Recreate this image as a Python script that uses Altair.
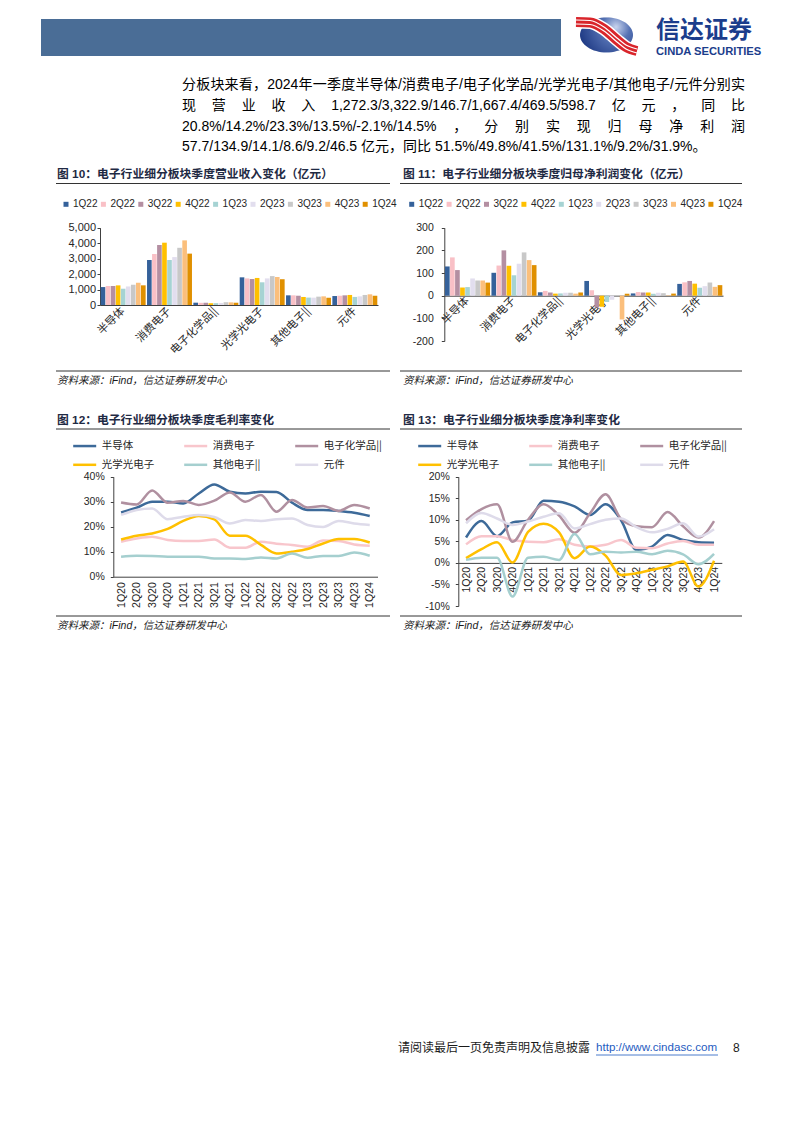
import altair as alt
import pandas as pd

# ---------------- data ----------------
sectors = ["半导体", "消费电子", "电子化学品||", "光学光电子", "其他电子||", "元件"]
bar_quarters = ["1Q22", "2Q22", "3Q22", "4Q22", "1Q23", "2Q23", "3Q23", "4Q23", "1Q24"]
bar_colors = ["#35619a", "#f9c0c6", "#b48fa2", "#ffc000", "#a6d3d3",
              "#e2deee", "#c8c8c8", "#fbbf7c", "#e09000"]

revenue = {  # 亿元
    "半导体":       [1160, 1230, 1230, 1270, 1053, 1200, 1310, 1440, 1272.3],
    "消费电子":     [2910, 3300, 3880, 4030, 2910, 3100, 3700, 4180, 3322.9],
    "电子化学品||": [150, 140, 145, 115, 119, 130, 180, 170, 146.7],
    "光学光电子":   [1790, 1720, 1680, 1750, 1469, 1720, 1870, 1810, 1667.4],
    "其他电子||":   [625, 625, 600, 520, 480, 475, 540, 560, 469.5],
    "元件":         [580, 600, 625, 650, 523, 560, 650, 690, 598.7],
}
profit = {  # 亿元
    "半导体":       [129, 169, 113, 36, 38, 76, 67, 67, 57.7],
    "消费电子":     [101, 133, 200, 132, 90, 141, 191, 157, 134.9],
    "电子化学品||": [15, 21, 14, 9, 10, 13, 13, 9, 14.1],
    "光学光电子":   [65, 24, -52, -49, -28, -18, -3, -105, 8.6],
    "其他电子||":   [10, 16, 14, 14, 8.4, 13, 11, 2, 9.2],
    "元件":         [52, 59, 65, 53, 35, 42, 58, 39, 46.5],
}

line_quarters = ["1Q20", "2Q20", "3Q20", "4Q20", "1Q21", "2Q21", "3Q21", "4Q21",
                 "1Q22", "2Q22", "3Q22", "4Q22", "1Q23", "2Q23", "3Q23", "4Q23", "1Q24"]
line_colors = ["#3d6a99", "#f8c6cc", "#b090a0", "#ffc000", "#a5cfcf", "#dedbea"]

gross = {  # %
    "半导体":       [25.7, 27.6, 30.0, 30.0, 29.3, 33.3, 36.9, 34.0, 33.3, 34.0, 33.9, 29.6, 26.7, 26.7, 26.3, 25.6, 24.3],
    "消费电子":     [14.0, 15.3, 16.0, 14.7, 14.3, 14.3, 14.9, 11.6, 11.6, 14.0, 13.2, 12.7, 12.0, 14.5, 14.3, 12.9, 12.4],
    "电子化学品||": [29.7, 28.9, 34.5, 29.6, 30.3, 28.7, 30.4, 33.7, 30.0, 32.7, 26.0, 30.7, 27.7, 28.3, 26.3, 28.7, 27.3],
    "光学光电子":   [14.9, 16.4, 17.3, 19.1, 22.3, 24.3, 22.9, 16.4, 16.4, 12.7, 9.3, 10.0, 11.1, 13.3, 15.1, 15.1, 13.7],
    "其他电子||":   [8.0, 8.4, 8.3, 8.0, 8.0, 8.0, 7.3, 7.3, 7.1, 7.7, 7.3, 9.3, 7.6, 8.3, 8.3, 9.7, 8.4],
    "元件":         [24.7, 26.7, 27.3, 23.0, 24.0, 24.7, 23.9, 21.3, 22.7, 22.3, 23.0, 23.3, 20.7, 19.9, 22.3, 21.3, 20.7],
}
net = {  # %
    "半导体":       [5.9, 9.7, 6.2, 9.4, 9.8, 14.4, 14.2, 13.1, 11.1, 13.6, 9.9, 3.0, 3.8, 6.5, 5.3, 4.8, 4.7],
    "消费电子":     [4.3, 6.2, 6.2, 5.3, 4.9, 4.8, 5.5, 4.2, 3.8, 4.2, 5.3, 3.5, 3.4, 4.5, 5.1, 4.2, 4.2],
    "电子化学品||": [9.9, 12.5, 13.6, 4.9, 10.0, 13.6, 11.0, 7.0, 11.5, 15.9, 10.2, 8.5, 8.3, 11.8, 8.5, 5.9, 9.7],
    "光学光电子":   [1.1, 3.2, 4.8, 0.1, 7.2, 9.1, 7.1, 1.1, 3.8, 1.7, -2.8, -2.4, -1.6, -0.8, 0.3, -5.5, 0.5],
    "其他电子||":   [0.7, 1.2, 1.2, -7.8, 1.2, 1.4, 0.7, 6.7, 2.0, 2.6, 2.4, 2.6, 2.0, 2.8, 2.0, -0.3, 2.1],
    "元件":         [9.2, 11.6, 10.3, 8.8, 9.6, 10.7, 11.5, 8.0, 9.0, 10.0, 10.3, 8.3, 7.1, 7.9, 9.2, 6.1, 7.8],
}

para_lines = [
    "分板块来看，2024 年一季度半导体/消费电子/电子化学品/光学光电子/其他电子/元件分别实",
    "现营业收入 1,272.3/3,322.9/146.7/1,667.4/469.5/598.7 亿元，同比",
    "20.8%/14.2%/23.3%/13.5%/-2.1%/14.5%，分别实现归母净利润",
    "57.7/134.9/14.1/8.6/9.2/46.5 亿元，同比 51.5%/49.8%/41.5%/131.1%/9.2%/31.9%。",
]
titles = ["图 10：电子行业细分板块季度营业收入变化（亿元）",
          "图 11：电子行业细分板块季度归母净利润变化（亿元）",
          "图 12：电子行业细分板块季度毛利率变化",
          "图 13：电子行业细分板块季度净利率变化"]
source = "资料来源：iFind，信达证券研发中心"

# ---------------- layout helpers ----------------
W, H = 778, 1107
CJK = "Noto Sans CJK SC"
LAT = "Liberation Sans"
MIX = "Liberation Sans, Noto Sans CJK SC"
INK = "#262626"
AXIS = "#404040"
NAVY = "#1f2a44"


def pg(v):
    return v - 8


NUM_EXPR = "(datum.value < 0 ? '-' : '') + format(abs(datum.value), ',')"
PCT_EXPR = "(datum.value < 0 ? '-' : '') + format(abs(datum.value), '.0%')"


def bar_chart(values, box, domain, ticks, fs, ypad, xpad, legend_xy):
    x0, x1, yt, yb = box
    zero_y = yb - (0 - domain[0]) / (domain[1] - domain[0]) * (yb - yt)
    df = pd.DataFrame([{"sector": s, "q": q, "v": values[s][i]}
                       for s in sectors for i, q in enumerate(bar_quarters)])
    return alt.Chart(df).mark_bar().encode(
        x=alt.X("sector:N", sort=sectors, title=None,
                scale=alt.Scale(range=[x0, x1], paddingInner=0.03, paddingOuter=0.015),
                axis=alt.Axis(orient="bottom", offset=-(H - zero_y), labelAngle=315,
                              labelAlign="right", labelBaseline="middle", labelFont=CJK,
                              labelFontSize=11, labelPadding=xpad, ticks=False,
                              labelOverlap=False, domainColor=AXIS, labelColor=INK)),
        xOffset=alt.XOffset("q:N", sort=bar_quarters, scale=alt.Scale(paddingInner=0.08)),
        y=alt.Y("v:Q", title=None, scale=alt.Scale(domain=domain, range=[yb, yt], nice=False),
                axis=alt.Axis(orient="left", offset=-x0, values=ticks, labelExpr=NUM_EXPR,
                              labelFont=LAT, labelFontSize=fs, labelPadding=ypad, tickSize=3,
                              tickColor=AXIS, domainColor=AXIS, labelColor=INK)),
        color=alt.Color("q:N", sort=bar_quarters,
                        scale=alt.Scale(domain=bar_quarters, range=bar_colors),
                        legend=alt.Legend(orient="none", legendX=legend_xy[0], legendY=legend_xy[1],
                                          direction="horizontal", columns=9, title=None,
                                          symbolType="square", symbolSize=25, symbolStrokeWidth=0,
                                          labelFont=LAT, labelFontSize=10, labelColor=INK,
                                          labelOffset=2, columnPadding=0.4, padding=0)),
    )


def line_chart(values, box, domain, ticks, ypad, xpad, legend_xy):
    x0, x1, yt, yb = box
    zero_y = yb - (0 - domain[0]) / (domain[1] - domain[0]) * (yb - yt)
    df = pd.DataFrame([{"s": s, "q": q, "v": values[s][i] / 100}
                       for s in sectors for i, q in enumerate(line_quarters)])
    return alt.Chart(df).mark_line(strokeWidth=2.5, interpolate="monotone").encode(
        x=alt.X("q:O", sort=line_quarters, title=None,
                scale=alt.Scale(type="point", range=[x0, x1], padding=0.5),
                axis=alt.Axis(orient="bottom", offset=-(H - zero_y), labelAngle=270,
                              labelAlign="right", labelBaseline="middle", labelFont=LAT,
                              labelFontSize=10.5, labelPadding=xpad, ticks=False,
                              labelOverlap=False, domainColor=AXIS, labelColor=INK)),
        y=alt.Y("v:Q", title=None, scale=alt.Scale(domain=domain, range=[yb, yt], nice=False),
                axis=alt.Axis(orient="left", offset=-x0, values=ticks, labelExpr=PCT_EXPR,
                              labelFont=LAT, labelFontSize=10.5, labelPadding=ypad, tickSize=3,
                              tickColor=AXIS, domainColor=AXIS, labelColor=INK)),
        color=alt.Color("s:N", sort=sectors,
                        scale=alt.Scale(domain=sectors, range=line_colors),
                        legend=alt.Legend(orient="none", legendX=legend_xy[0], legendY=legend_xy[1],
                                          direction="horizontal", columns=3, title=None,
                                          symbolType="stroke", symbolSize=529, symbolStrokeWidth=2.5,
                                          labelFont=CJK, labelFontSize=10.5, labelColor=INK,
                                          labelOffset=4, columnPadding=18, rowPadding=-8,
                                          gridAlign="all", padding=0)),
    )


def text_layer(rows, font, weight="normal", style="normal", align="left"):
    df = pd.DataFrame(rows, columns=["x", "y", "t", "fs", "c"])
    return alt.Chart(df).mark_text(font=font, fontWeight=weight, fontStyle=style,
                                   align=align, baseline="middle").encode(
        x=alt.X("x:Q", scale=None, axis=None),
        y=alt.Y("y:Q", scale=None, axis=None),
        text="t:N",
        size=alt.Size("fs:Q", scale=None, legend=None),
        color=alt.Color("c:N", scale=None, legend=None),
    )


def adv(ch):
    if ord(ch) > 0x2E7F:
        return 1.0
    return {".": 0.278, ",": 0.278, "/": 0.278, " ": 0.278, "%": 0.889, "-": 0.333}.get(ch, 0.556)


def tokens(line):
    out, buf = [], ""
    for ch in line:
        if ord(ch) > 0x2E7F or ch == " ":
            if buf:
                out.append(buf)
            buf = ""
            if ch != " ":
                out.append(ch)
        else:
            buf += ch
    if buf:
        out.append(buf)
    return out


def justify(line, y, fs, x0, x1):
    toks = tokens(line)
    widths = [sum(adv(c) for c in t) * fs for t in toks]
    extra = (x1 - x0 - sum(widths)) / (len(toks) - 1)
    rows, x = [], x0
    for t, w in zip(toks, widths):
        rows.append((x, y, t, fs, "#000000"))
        x += w + extra
    return rows


# ---------------- page decorations ----------------
base = alt.Chart(pd.DataFrame({"a": [0]}))
header_bar = base.mark_rect(color="#4a6d96").encode(
    x=alt.value(pg(41)), x2=alt.value(pg(561)), y=alt.value(pg(19)), y2=alt.value(pg(56)))

ELLIPSE = ("M-1,0 C-1,-0.3645 -0.5523,-0.66 0,-0.66 C0.5523,-0.66 1,-0.3645 1,0 "
           "C1,0.3645 0.5523,0.66 0,0.66 C-0.5523,0.66 -1,0.3645 -1,0 Z")
logo_ball = base.mark_point(
    shape=ELLIPSE, filled=True, size=2809, opacity=1, strokeWidth=0,
    fill=alt.RadialGradient(gradient="radial", x1=0.68, y1=0.35, x2=0.68, y2=0.35, r1=0, r2=0.75,
                            stops=[alt.GradientStop(color="#c9d4ee", offset=0),
                                   alt.GradientStop(color="#5572b4", offset=0.35),
                                   alt.GradientStop(color="#1a3580", offset=1)])
).encode(x=alt.value(pg(606.5)), y=alt.value(pg(35)))

ribbon_path = [(576, 22), (590, 22.5), (604, 29), (617, 40), (626, 47), (637, 51)]
ribbon_rows = []
for k, (dy, w, c) in enumerate([(0, 13, "#ffffff"), (0, 10, "#d9252b"),
                                (-2, 1.2, "#ffffff"), (2, 1.2, "#ffffff")]):
    for (px, py) in ribbon_path:
        ribbon_rows.append({"x": pg(px), "y": pg(py + dy), "k": k, "w": w, "c": c})
logo_ribbon = alt.Chart(pd.DataFrame(ribbon_rows)).mark_line(interpolate="monotone").encode(
    x=alt.X("x:Q", scale=None, axis=None), y=alt.Y("y:Q", scale=None, axis=None),
    detail="k:N", order="x:Q",
    strokeWidth=alt.StrokeWidth("w:Q", scale=None, legend=None),
    color=alt.Color("c:N", scale=None, legend=None))

logo_cn = text_layer([(pg(656), pg(30.5), "信达证券", 24, "#1b3d8c")], CJK, weight="bold")
logo_en = text_layer([(pg(656), pg(52), "CINDA SECURITIES", 11.2, "#1b3d8c")], LAT, weight="bold")

para_y = [84.5, 106.3, 126.7, 146.7]
para_rows = []
for i in range(3):
    para_rows += justify(para_lines[i], pg(para_y[i]), 14, pg(182), pg(745))
para_rows.append((pg(182), pg(para_y[3]), para_lines[3], 14, "#000000"))
paragraph = text_layer(para_rows, MIX)

title_rows = [(pg(57), pg(174), titles[0], 11.8, NAVY), (pg(403), pg(174), titles[1], 11.8, NAVY),
              (pg(57), pg(420), titles[2], 11.8, NAVY), (pg(403), pg(420), titles[3], 11.8, NAVY)]
title_layer = text_layer(title_rows, MIX, weight="bold")

src_rows = [(pg(57), pg(381), source, 10.5, "#1a1a1a"), (pg(403), pg(381), source, 10.5, "#1a1a1a"),
            (pg(57), pg(626), source, 10.5, "#1a1a1a"), (pg(403), pg(626), source, 10.5, "#1a1a1a")]
src_layer = text_layer(src_rows, MIX, style="italic")

foot_cn = text_layer([(pg(398), pg(1048), "请阅读最后一页免责声明及信息披露", 12, "#1a1a1a")], CJK)
foot_url = text_layer([(pg(596), pg(1048), "http://www.cindasc.com", 11.6, "#1f5cbf")], LAT)
foot_num = text_layer([(pg(733), pg(1048), "8", 12, "#1a1a1a")], LAT)

rule_rows = []
for (a, b) in [(56, 390), (400, 742)]:
    for y in (183.5, 371, 429, 616):
        rule_rows.append({"x": pg(a), "x2": pg(b), "y": pg(y), "y2": pg(y), "c": "#333333", "w": 1})
rule_rows.append({"x": pg(596), "x2": pg(718), "y": pg(1055), "y2": pg(1055), "c": "#1f5cbf", "w": 0.8})
rules = alt.Chart(pd.DataFrame(rule_rows)).mark_rule().encode(
    x=alt.X("x:Q", scale=None, axis=None), x2="x2:Q",
    y=alt.Y("y:Q", scale=None, axis=None), y2="y2:Q",
    color=alt.Color("c:N", scale=None, legend=None),
    strokeWidth=alt.StrokeWidth("w:Q", scale=None, legend=None))

# ---------------- charts ----------------
BOX10 = (pg(100), pg(378), pg(227.7), pg(305))
BOX11 = (pg(444.3), pg(723), pg(227.7), pg(341))
BOX12 = (pg(113.3), pg(377.5), pg(476.7), pg(576.7))
BOX13 = (pg(458.3), pg(721.8), pg(476.7), pg(606))

c10 = bar_chart(revenue, BOX10, [0, 5000], [0, 1000, 2000, 3000, 4000, 5000], 11, 1.5, 4,
                (pg(61), pg(199.3)))
c11 = bar_chart(profit, BOX11, [-200, 300], [-200, -100, 0, 100, 200, 300], 10.5, 8, 3,
                (pg(406.7), pg(199.3)))
c12 = line_chart(gross, BOX12, [0, 0.4], [0, 0.1, 0.2, 0.3, 0.4], 6, 5,
                 (pg(71.7), pg(432.8)))
c13 = line_chart(net, BOX13, [-0.1, 0.2], [-0.1, -0.05, 0, 0.05, 0.1, 0.15, 0.2], 6, 3.5,
                 (pg(416.7), pg(432.8)))

chart = alt.layer(
    header_bar, logo_ball, logo_ribbon, logo_cn, logo_en, paragraph, rules, title_layer, src_layer,
    foot_cn, foot_url, foot_num, c10, c11, c12, c13,
).resolve_scale(
    x="independent", y="independent", color="independent", xOffset="independent"
).resolve_axis(
    x="independent", y="independent"
).properties(
    width=W, height=H, padding=0, background="white",
    autosize=alt.AutoSizeParams(type="none"),
).configure_view(stroke=None).configure_axis(grid=False, domainWidth=1)

chart.save("out.html", embed_options={"renderer": "svg", "actions": False})
